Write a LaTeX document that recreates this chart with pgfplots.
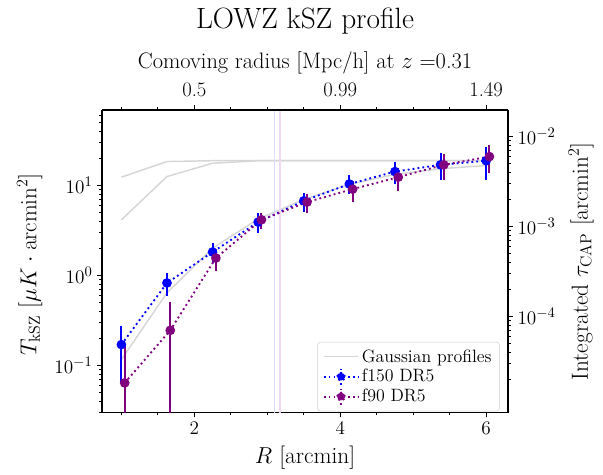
\documentclass[border=0pt]{standalone}
\usepackage{pgfplots}
\pgfplotsset{compat=1.18}
\usetikzlibrary{calc}

\definecolor{mplpurple}{RGB}{128,0,128}
\definecolor{gausgray}{RGB}{214,214,214}
\definecolor{vblue}{RGB}{220,220,255}
\definecolor{vpurple}{RGB}{240,218,240}

% f150 DR5: R, T, +err, -err
\pgfplotstableread{
x      y      ep     em
1.000  0.170  0.101  0.104
1.625  0.824  0.236  0.239
2.250  1.82   0.47   0.45
2.875  3.92   1.01   0.92
3.500  6.76   1.60   1.62
4.125  10.4   2.7    2.3
4.750  14.3   3.9    3.9
5.375  17.0   5.9    5.6
6.000  18.9   8.2    7.3
}\fonefifty

% f90 DR5
\pgfplotstableread{
x      y       ep     em
1.045  0.0637  0.106  0.0600
1.670  0.245   0.255  0.242
2.295  1.56    0.42   0.45
2.920  4.16    0.84   0.88
3.545  6.55    1.47   1.62
4.170  9.12    2.18   2.57
4.795  12.4    3.4    3.6
5.420  17.0    5.3    5.4
6.045  21.0    7.3    7.3
}\fninety

\pgfplotsset{
  base/.style={
    scale only axis, width=304.5pt, height=227pt,
    xmin=0.734, xmax=6.30,
    tick align=outside,
    major tick length=3.6pt, minor tick length=2.1pt,
    axis line style={line width=0.8pt},
    every tick/.style={black, line width=0.7pt},
    tick label style={font=\fontsize{15.5}{18}\selectfont},
  },
  ebar/.style={
    mark=*, mark size=2.9pt, mark options={solid},
    line width=1.4pt, dash pattern=on 1.4pt off 2.3pt,
    error bars/y dir=both, error bars/y explicit, error bars/error mark=none,
    error bars/error bar style={line width=1.5pt, solid},
  },
}

\begin{document}
\begin{tikzpicture}
\begin{axis}[base, name=main,
  ymode=log, ymin=0.0297, ymax=69.3,
  axis x line*=bottom, axis y line*=left,
  xtick={2,4,6}, minor xtick={1,1.5,...,6},
  xlabel={$R$ [arcmin]},
  ylabel={$T_{\mathrm{kSZ}}$ [$\mu K\cdot\mathrm{arcmin}^2$]},
  x label style={font=\fontsize{17.5}{20}\selectfont, at={(axis description cs:0.5,-0.15)}, anchor=center},
  y label style={font=\fontsize{18}{21}\selectfont, at={(axis description cs:-0.178,0.49)}, anchor=center},
  legend style={at={(0.98,0.004)}, anchor=south east, draw=gray!35, fill=white,
    rounded corners=2.5pt, font=\fontsize{13.4}{15}\selectfont,
    inner xsep=4pt, inner ysep=3.5pt, row sep=0pt},
  legend cell align=left,
]
\addplot[gausgray, line width=1.1pt,
  legend image code/.code={\draw[gausgray, line width=1.1pt] (0pt,0pt) -- (26pt,0pt);}]
  coordinates {(1,12.4) (1.625,18.5) (2.25,18.9) (2.875,18.9) (3.5,18.9) (4.125,18.9) (4.75,18.9) (5.375,18.9) (6,18.9)};
\addlegendentry{Gaussian profiles}
\addplot[gausgray, line width=1.1pt, forget plot]
  coordinates {(1,4.16) (1.625,12.6) (2.25,17.7) (2.875,18.9) (3.5,18.9) (4.125,18.9) (4.75,18.9) (5.375,18.9) (6,18.9)};
\addplot[gausgray, line width=1.1pt, forget plot]
  coordinates {(1,0.116) (1.625,0.64) (2.25,2.01) (2.875,4.24) (3.5,7.0) (4.125,10.3) (4.75,13.3) (5.375,15.4) (6,16.7)};
\addplot[vblue, line width=0.9pt, forget plot] coordinates {(3.10,0.02) (3.10,100)};
\addplot[vpurple, line width=0.9pt, forget plot] coordinates {(3.175,0.02) (3.175,100)};

\addplot[blue, ebar,
  legend image code/.code={
    \draw[blue, line width=1.4pt, dash pattern=on 1.4pt off 2.3pt] (0pt,0pt) -- (26pt,0pt);
    \draw[blue, line width=1.5pt] (13pt,-6pt) -- (13pt,6pt);
    \fill[blue] (13pt,0pt) circle (2.9pt);}]
  table[x=x, y=y, y error plus=ep, y error minus=em] {\fonefifty};
\addlegendentry{f150 DR5}
\addplot[mplpurple, ebar,
  legend image code/.code={
    \draw[mplpurple, line width=1.4pt, dash pattern=on 1.4pt off 2.3pt] (0pt,0pt) -- (26pt,0pt);
    \draw[mplpurple, line width=1.5pt] (13pt,-6pt) -- (13pt,6pt);
    \fill[mplpurple] (13pt,0pt) circle (2.9pt);}]
  table[x=x, y=y, y error plus=ep, y error minus=em] {\fninety};
\addlegendentry{f90 DR5}
\end{axis}

% top axis: comoving radius
\begin{axis}[base, at={(main.south west)}, anchor=south west,
  axis x line*=top, hide y axis, ymin=0, ymax=1,
  xtick={2,4,6}, xticklabels={0.5,0.99,1.49}, minor xtick={1,1.5,...,6},
  xticklabel style={yshift=3pt},
  xlabel={Comoving radius [Mpc/h] at $z$ =0.31},
  x label style={font=\fontsize{16.8}{19}\selectfont, at={(axis description cs:0.5,1.155)}, anchor=center},
]
\end{axis}

% right axis: integrated tau
\begin{axis}[base, at={(main.south west)}, anchor=south west,
  axis y line*=right, hide x axis,
  ymode=log, ymin=8.5e-6, ymax=0.0196,
  ytick={1e-4,1e-3,1e-2},
  minor ytick={2e-5,3e-5,4e-5,5e-5,6e-5,7e-5,8e-5,9e-5,
               2e-4,3e-4,4e-4,5e-4,6e-4,7e-4,8e-4,9e-4,
               2e-3,3e-3,4e-3,5e-3,6e-3,7e-3,8e-3,9e-3},
  ylabel={Integrated $\tau_{\mathrm{CAP}}$ [$\mathrm{arcmin}^2$]},
  y label style={font=\fontsize{17.5}{20}\selectfont, at={(axis description cs:1.18,0.5)}, anchor=center},
]
\end{axis}

\node[font=\fontsize{22}{26}\selectfont] at ($(main.north)+(0pt,66.5pt)$) {LOWZ kSZ profile};

\pgfresetboundingbox
\path[use as bounding box] ($(main.south west)+(-76.5pt,-46.7pt)$) rectangle ($(main.north east)+(71.25pt,82.5pt)$);
\end{tikzpicture}
\end{document}
